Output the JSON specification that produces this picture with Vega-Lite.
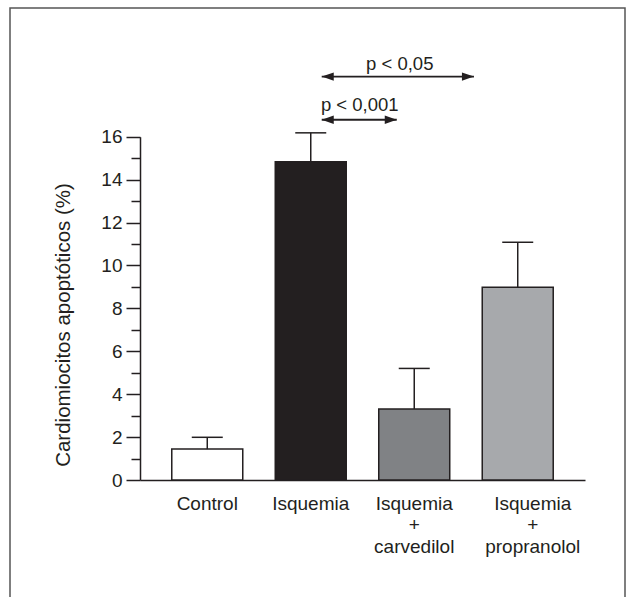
{
  "$schema": "https://vega.github.io/schema/vega-lite/v6.json",
  "width": 615,
  "height": 589,
  "autosize": {"type": "none"},
  "padding": {"left": 10, "top": 8, "right": 1, "bottom": 0},
  "background": "white",
  "config": {
    "font": "Liberation Sans",
    "view": {"stroke": "#555555", "strokeWidth": 1.5, "strokeDash": [1204, 615, 589]}
  },
  "resolve": {"scale": {"x": "independent"}, "axis": {"y": "independent"}},
  "layer": [
    {
      "data": {
        "values": [
          {"group": "Control", "mean": 1.44, "upper": 1.99},
          {"group": "Isquemia", "mean": 14.83, "upper": 16.18},
          {"group": "Isquemia + carvedilol", "mean": 3.31, "upper": 5.2},
          {"group": "Isquemia + propranolol", "mean": 8.98, "upper": 11.08}
        ]
      },
      "resolve": {"axis": {"y": "independent"}},
      "encoding": {
        "x": {
          "field": "group",
          "type": "nominal",
          "sort": null,
          "scale": {"type": "band", "range": [130, 575], "paddingInner": 0.314, "paddingOuter": 0.307},
          "axis": {
            "orient": "bottom",
            "offset": -117,
            "title": null,
            "ticks": false,
            "tickSize": 0,
            "labelAngle": 0,
            "labelPadding": 14,
            "labelBaseline": "top",
            "labelLineHeight": 21.5,
            "labelFontSize": 19,
            "labelColor": "#231f20",
            "labelFont": "Liberation Sans",
            "labelOffset": {"condition": {"test": "datum.value == 'Isquemia + propranolol'", "value": 15}, "value": 0},
            "labelExpr": "indexof(datum.label, ' + ') > 0 ? split(datum.label, ' ') : datum.label",
            "domainColor": "#231f20",
            "domainWidth": 1.5
          }
        }
      },
      "layer": [
        {
          "mark": {"type": "bar", "stroke": "#231f20", "strokeWidth": 1.5},
          "encoding": {
            "y": {
              "field": "mean",
              "type": "quantitative",
              "scale": {"domain": [0, 16], "range": [472, 128.7], "nice": false, "zero": true},
              "axis": {
                "orient": "left",
                "offset": -130,
                "values": [0, 2, 4, 6, 8, 10, 12, 14, 16],
                "grid": false,
                "title": "Cardiomiocitos apoptóticos (%)",
                "titleFontSize": 20.5,
                "titleFontWeight": "normal",
                "titleColor": "#231f20",
                "titleFont": "Liberation Sans",
                "titleX": -71,
                "titleY": 316.5,
                "titleBaseline": "alphabetic",
                "titleAngle": -90,
                "labelFontSize": 19,
                "labelColor": "#231f20",
                "labelPadding": 4,
                "labelFont": "Liberation Sans",
                "tickSize": 14,
                "tickColor": "#231f20",
                "tickWidth": 1.5,
                "domainColor": "#231f20",
                "domainWidth": 1.5
              }
            },
            "fill": {
              "field": "group",
              "type": "nominal",
              "scale": {
                "domain": ["Control", "Isquemia", "Isquemia + carvedilol", "Isquemia + propranolol"],
                "range": ["#ffffff", "#231f20", "#808285", "#a7a9ac"]
              },
              "legend": null
            }
          }
        },
        {
          "mark": {"type": "rule", "stroke": "#231f20", "strokeWidth": 1.5},
          "encoding": {
            "y": {
              "field": "mean",
              "type": "quantitative",
              "axis": {
                "orient": "left",
                "offset": -130,
                "values": [1, 3, 5, 7, 9, 11, 13, 15],
                "grid": false,
                "title": null,
                "labels": false,
                "domain": false,
                "tickSize": 9,
                "tickColor": "#231f20",
                "tickWidth": 1.5
              }
            },
            "y2": {"field": "upper"}
          }
        },
        {
          "mark": {"type": "tick", "color": "#231f20", "thickness": 1.5, "opacity": 1},
          "encoding": {
            "y": {"field": "upper", "type": "quantitative", "axis": null},
            "size": {"value": 31}
          }
        }
      ]
    },
    {
      "encoding": {
        "x": {
          "field": "x",
          "type": "quantitative",
          "scale": {"domain": [0.345, 4.645], "range": [130, 575], "nice": false, "zero": false},
          "axis": null
        },
        "y": {"field": "y", "type": "quantitative", "axis": null}
      },
      "layer": [
        {
          "data": {
            "values": [
              {"x": 2.101, "x2": 3.572, "y": 18.8},
              {"x": 2.101, "x2": 2.826, "y": 16.79}
            ]
          },
          "mark": {"type": "rule", "stroke": "#231f20", "strokeWidth": 1.8},
          "encoding": {
            "x2": {"field": "x2"}
          }
        },
        {
          "data": {
            "values": [
              {"x": 2.101, "y": 18.8, "dir": "left"},
              {"x": 3.572, "y": 18.8, "dir": "right"},
              {"x": 2.101, "y": 16.79, "dir": "left"},
              {"x": 2.826, "y": 16.79, "dir": "right"}
            ]
          },
          "mark": {"type": "point", "filled": true, "fill": "#231f20", "stroke": null, "opacity": 1, "size": 144},
          "encoding": {
            "shape": {
              "field": "dir",
              "type": "nominal",
              "scale": {"domain": ["left", "right"], "range": ["M0,0L2,-0.7L2,0.7Z", "M0,0L-2,-0.7L-2,0.7Z"]},
              "legend": null
            }
          }
        },
        {
          "data": {
            "values": [
              {"x": 2.855, "y": 19.1, "label": "p < 0,05"},
              {"x": 2.468, "y": 17.2, "label": "p < 0,001"}
            ]
          },
          "mark": {"type": "text", "align": "center", "baseline": "alphabetic", "fontSize": 18.5, "font": "Liberation Sans", "color": "#231f20"},
          "encoding": {
            "text": {"field": "label"}
          }
        }
      ]
    }
  ]
}
